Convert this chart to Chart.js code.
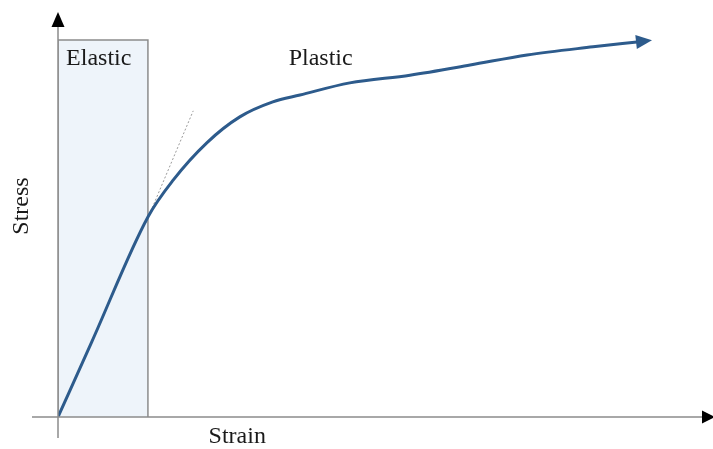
<!DOCTYPE html>
<html>
<head>
<meta charset="utf-8">
<script src="https://cdn.jsdelivr.net/npm/chart.js@4"></script>
<style>
html,body{margin:0;padding:0;background:#fff;}
#wrap{width:713px;height:449px;}
</style>
</head>
<body>
<div id="wrap"><canvas id="c" width="713" height="449"></canvas></div>
<script>
// Stress-strain curve (arbitrary units)
const strainValues = [0, 5.2, 13.9, 17.8, 23.0, 28.1, 33.2, 37.4, 45.1, 54.4, 63.7, 72.5, 82.7, 89.5];
const stressValues = [0, 18.5, 49.4, 58.5, 67.7, 74.1, 77.8, 79.5, 82.5, 84.4, 86.9, 89.4, 91.4, 92.6];
// Elastic region box
const elasticStrain = [0, 0, 13.9, 13.9];
const elasticStress = [0, 93.1, 93.1, 0];
// Tangent (dashed) extension of elastic slope
const tangentStrain = [13.6, 20.9];
const tangentStress = [48.0, 75.6];
// Text labels
const labelTexts = ["Elastic", "Plastic", "Strain", "Stress"];
const labelStrain = [6.3, 40.6, 27.7, -5.6];
const labelStress = [88.4, 88.4, -4.9, 52.1];
const labelRotation = [0, 0, 0, -90];

const toPts = (xs, ys) => xs.map((x, i) => ({x: x, y: ys[i]}));

const overlay = {
  id: 'overlay',
  afterDatasetsDraw(chart) {
    const ctx = chart.ctx;
    const xs = chart.scales.x, ys = chart.scales.y;
    const x0 = xs.getPixelForValue(0), y0 = ys.getPixelForValue(0);
    ctx.save();
    // axes
    ctx.strokeStyle = '#8c8c8c';
    ctx.lineWidth = 1.5;
    ctx.beginPath();
    ctx.moveTo(32, y0); ctx.lineTo(chart.width - 6, y0);
    ctx.moveTo(x0, y0 + 21); ctx.lineTo(x0, 24);
    ctx.stroke();
    ctx.fillStyle = '#000';
    // y arrow
    ctx.beginPath();
    ctx.moveTo(x0, 12); ctx.lineTo(x0 - 6.5, 27); ctx.lineTo(x0 + 6.5, 27); ctx.closePath(); ctx.fill();
    // x arrow
    ctx.beginPath();
    ctx.moveTo(chart.width + 2, y0); ctx.lineTo(chart.width - 11, y0 - 6.5); ctx.lineTo(chart.width - 11, y0 + 6.5); ctx.closePath(); ctx.fill();
    // curve arrow
    const n = strainValues.length;
    const px = xs.getPixelForValue(strainValues[n - 1]), py = ys.getPixelForValue(stressValues[n - 1]);
    const qx = xs.getPixelForValue(strainValues[n - 2]), qy = ys.getPixelForValue(stressValues[n - 2]);
    const ang = Math.atan2(py - qy, px - qx);
    ctx.translate(px, py); ctx.rotate(ang);
    ctx.fillStyle = '#2d5b8c';
    ctx.beginPath();
    ctx.moveTo(15, 0); ctx.lineTo(-1, -7); ctx.lineTo(-1, 7); ctx.closePath(); ctx.fill();
    ctx.restore();
    // labels
    ctx.save();
    ctx.fillStyle = '#1a1a1a';
    ctx.font = '24px "Liberation Serif", "Times New Roman", serif';
    ctx.textAlign = 'center';
    ctx.textBaseline = 'middle';
    labelTexts.forEach((t, i) => {
      ctx.save();
      ctx.translate(xs.getPixelForValue(labelStrain[i]), ys.getPixelForValue(labelStress[i]));
      ctx.rotate(labelRotation[i] * Math.PI / 180);
      ctx.fillText(t, 0, 0);
      ctx.restore();
    });
    ctx.restore();
  }
};

new Chart(document.getElementById('c'), {
  type: 'line',
  data: {
    datasets: [
      {
        data: toPts(elasticStrain, elasticStress),
        borderColor: '#8c8c8c', borderWidth: 1.5,
        backgroundColor: '#eef4fa', fill: 'origin',
        pointRadius: 0, tension: 0, order: 3
      },
      {
        data: toPts(tangentStrain, tangentStress),
        borderColor: '#9a9a9a', borderWidth: 1, borderDash: [2, 2],
        pointRadius: 0, fill: false, tension: 0, order: 2
      },
      {
        data: toPts(strainValues, stressValues),
        borderColor: '#2d5b8c', borderWidth: 3,
        pointRadius: 0, fill: false, cubicInterpolationMode: 'monotone', order: 1
      }
    ]
  },
  options: {
    responsive: false,
    animation: false,
    layout: {padding: {left: 58, right: 8, top: 12, bottom: 32}},
    plugins: {legend: {display: false}, tooltip: {enabled: false}},
    scales: {
      x: {type: 'linear', min: 0, max: 100, display: false},
      y: {type: 'linear', min: 0, max: 100, display: false}
    }
  },
  plugins: [overlay]
});
</script>
</body>
</html>
